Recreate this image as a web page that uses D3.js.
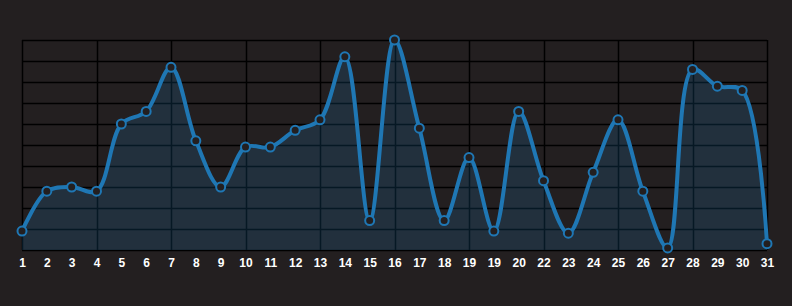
<!DOCTYPE html>
<html>
<head>
<meta charset="utf-8">
<script src="https://cdnjs.cloudflare.com/ajax/libs/d3/7.8.5/d3.min.js"></script>
<style>
    html, body { margin: 0; padding: 0; background: #231f20; }
    #chart { width: 792px; height: 306px; }
    .xlab { fill: #fff; font-family: 'Liberation Sans', Arial, sans-serif; font-size: 12px; font-weight: bold; }
</style>
</head>
<body>
<div id="chart"></div>
<script>
'use strict';

// tick labels as shown under the chart (note the repeated 19, no 21)
var labels = ['1', '2', '3', '4', '5', '6', '7', '8', '9', '10', '11', '12', '13', '14', '15', '16',
    '17', '18', '19', '19', '20', '22', '23', '24', '25', '26', '27', '28', '29', '30', '31']
var values = [9, 28, 30, 28, 60, 66, 87, 52, 30, 49, 49, 57, 62, 92, 14, 100,
    58, 14, 44, 9, 66, 33, 8, 37, 62, 28, 1, 86, 78, 76, 3]
var yTicks = [0, 10, 20, 30, 40, 50, 60, 70, 80, 90, 100]

var width = 792,
    height = 306
var padding = { left: 22, right: 25, top: 40, bottom: 56 }

var svg = d3.select('#chart').append('svg').attr('width', width).attr('height', height)

var xScale = d3.scaleLinear().domain([0, values.length - 1]).range([padding.left, width - padding.right])
var yScale = d3.scaleLinear().domain([0, 100]).range([height - padding.bottom, padding.top])

var grid = svg.append('g').attr('class', 'grid')

// horizontal grid
grid.selectAll('.hline').data(yTicks).enter().append('line')
    .attr('x1', xScale(0)).attr('x2', xScale(values.length - 1))
    .attr('y1', function(d) { return yScale(d) + 0.5 })
    .attr('y2', function(d) { return yScale(d) + 0.5 })
    .style('stroke', '#000').style('stroke-width', 1.5)

// vertical grid every 3 points
var vIdx = d3.range(0, values.length, 3)
grid.selectAll('.vline').data(vIdx).enter().append('line')
    .attr('x1', function(d) { return Math.round(xScale(d)) + 0.5 })
    .attr('x2', function(d) { return Math.round(xScale(d)) + 0.5 })
    .attr('y1', yScale(100)).attr('y2', yScale(0))
    .style('stroke', '#000').style('stroke-width', 1.5)

var curve = d3.curveCatmullRom.alpha(0.5)

var area = d3.area()
    .x(function(d, i) { return xScale(i) })
    .y0(yScale(0))
    .y1(function(d) { return yScale(d) })
    .curve(curve)

var line = d3.line()
    .x(function(d, i) { return xScale(i) })
    .y(function(d) { return yScale(d) })
    .curve(curve)

svg.append('path').datum(values)
    .attr('d', area)
    .style('fill', '#1f77b4').style('fill-opacity', 0.2)

svg.append('path').datum(values)
    .attr('d', line)
    .style('fill', 'none').style('stroke', '#1f77b4').style('stroke-width', 4)

svg.selectAll('.dot').data(values).enter().append('circle')
    .attr('cx', function(d, i) { return xScale(i) })
    .attr('cy', function(d) { return yScale(d) })
    .attr('r', 4.5)
    .style('fill', '#231f20').style('stroke', '#1f77b4').style('stroke-width', 2)

var xAxis = d3.axisBottom(xScale)
    .tickValues(d3.range(values.length))
    .tickFormat(function(i) { return labels[i] })
    .tickSize(0)
    .tickPadding(8)

var gx = svg.append('g')
    .attr('transform', 'translate(0,' + (height - padding.bottom) + ')')
    .call(xAxis)
gx.select('.domain').remove()
gx.selectAll('text').attr('class', 'xlab').attr('fill', null)
</script>
</body>
</html>
